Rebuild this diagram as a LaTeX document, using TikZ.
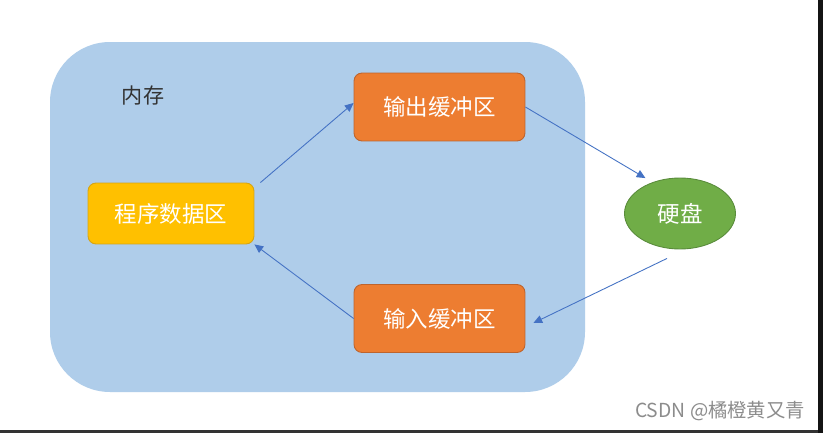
\documentclass[tikz,border=0pt]{standalone}
\usepackage{fontspec}
\setmainfont{Noto Sans CJK SC}
\usepackage{tikz}
\usetikzlibrary{arrows.meta,shapes.geometric,positioning,calc}

\definecolor{membg}{RGB}{175,205,234}
\definecolor{datafill}{RGB}{255,192,0}
\definecolor{datadraw}{RGB}{214,164,20}
\definecolor{buffill}{RGB}{237,125,49}
\definecolor{bufdraw}{RGB}{190,100,45}
\definecolor{diskfill}{RGB}{112,173,71}
\definecolor{diskdraw}{RGB}{90,140,60}
\definecolor{arrowblue}{RGB}{68,114,196}

\begin{document}
\begin{tikzpicture}[x=0.02cm,y=-0.02cm,
  box/.style={rounded corners=0.16cm, line width=0.5pt, text=white,
              font=\fontsize{12.8}{14}\selectfont},
  buf/.style={box, draw=bufdraw, fill=buffill, minimum width=3.42cm, minimum height=1.36cm},
  flow/.style={-{Triangle[length=5pt,width=4.5pt]}, draw=arrowblue, line width=0.5pt}]
  \useasboundingbox (0,0) rectangle (823,433);
  \fill[white] (0,0) rectangle (823,433);
  \fill[black!92] (818,0) rectangle (823,433);
  \fill[black!80] (0,430) rectangle (818,433);

  % memory area
  \fill[membg, rounded corners=1.2cm] (50,42) rectangle (585,392);
  \node[font=\fontsize{12}{13}\selectfont, text=black!80] (mem) at (143,96) {内存};

  \node[box, draw=datadraw, fill=datafill, minimum width=3.32cm, minimum height=1.22cm] (data) at (171,213.5) {程序数据区};
  \node[buf] (out) at (439.5,107) {输出缓冲区};
  \node[buf] (in) at (439.5,318.5) {输入缓冲区};
  \node[ellipse, draw=diskdraw, line width=0.5pt, fill=diskfill, text=white,
        minimum width=2.22cm, minimum height=1.42cm, inner sep=0pt,
        font=\fontsize{12.8}{14}\selectfont] (disk) at (680,213.5) {硬盘};

  \draw[flow] ([xshift=0.12cm]data.north east) -- ([yshift=0.08cm]out.west);
  \draw[flow] (out.east) -- ([shift={(5,-10)}]disk.north west);
  \draw[flow] ([shift={(-13,9)}]disk.south) -- ([shift={(8,4.5)}]in.east);
  \draw[flow] (in.west) -- (data.south east);

  \node[text=black!45, font=\fontsize{11}{12}\selectfont] (mark) at (720,411) {CSDN @橘橙黄又青};
\end{tikzpicture}
\end{document}
